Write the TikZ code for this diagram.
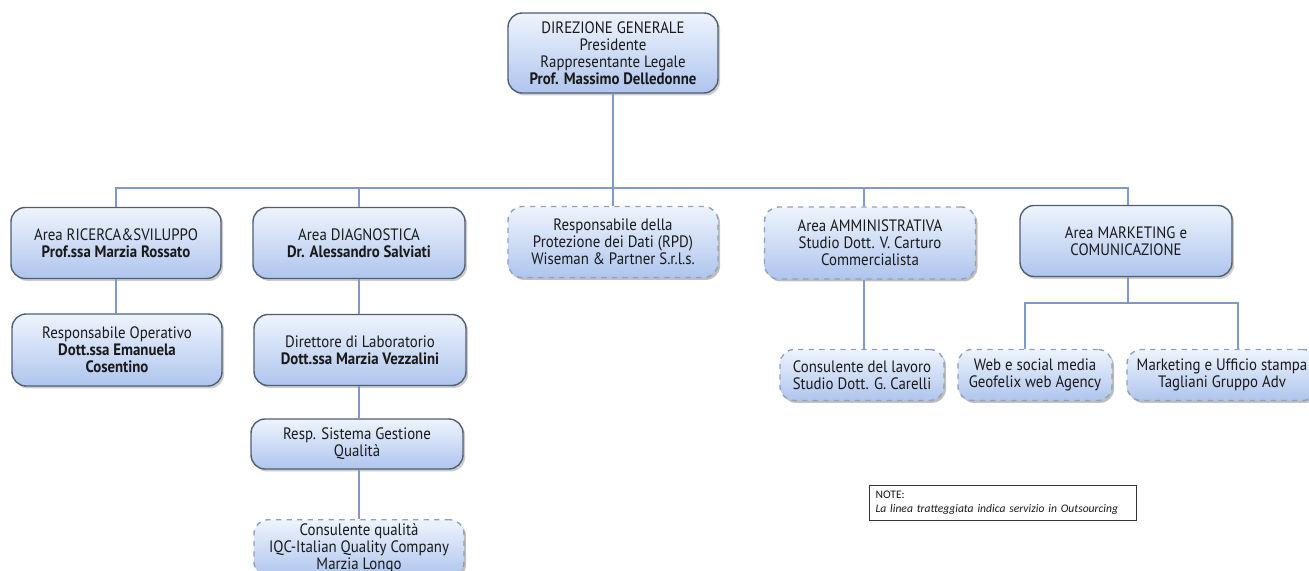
\documentclass[tikz,border=0pt]{standalone}
\usepackage{fontspec}
\setmainfont{PT Sans}[FakeStretch=0.9]
\newfontfamily\notefont{Carlito}
\usetikzlibrary{positioning,shadows}

\definecolor{boxtop}{HTML}{EEF4FD}
\definecolor{boxbottom}{HTML}{AFC5EE}
\definecolor{boxline}{HTML}{505E72}
\definecolor{dashline}{HTML}{8FA1BD}
\definecolor{linkblue}{HTML}{7D9ACA}

\begin{document}
\begin{tikzpicture}[
    x=0.02cm,
    y=-0.02cm,
    every node/.style={
        font=\fontsize{9.4}{9.7}\selectfont,
        align=center,
        text=black!90
    },
    unit/.style={
        draw=boxline,
        thick,
        rounded corners=8pt,
        top color=boxtop,
        bottom color=boxbottom,
        drop shadow={shadow xshift=1.2pt, shadow yshift=-1.4pt, opacity=0.4},
        minimum width=4.2cm,
        minimum height=1.42cm,
        inner sep=2pt
    },
    outsourced/.style={
        unit,
        draw=dashline,
        dashed,
        drop shadow={shadow xshift=1pt, shadow yshift=-1.2pt, opacity=0.2}
    },
    link/.style={
        draw=linkblue,
        line width=1.1pt
    }
]

\useasboundingbox (0,0) rectangle (1309,571);

% direzione
\node[unit, minimum height=1.6cm] (dg) at (613,53) {
    DIREZIONE GENERALE\\
    Presidente\\
    Rappresentante Legale\\
    \textbf{Prof. Massimo Delledonne}
};

% aree
\node[unit] (rs) at (116,243) {
    Area RICERCA\&SVILUPPO\\
    \textbf{Prof.ssa Marzia Rossato}
};

\node[unit, minimum width=4.24cm] (diag) at (359,243) {
    Area DIAGNOSTICA\\
    \textbf{Dr. Alessandro Salviati}
};

\node[outsourced] (rpd) at (613,242) {
    Responsabile della\\
    Protezione dei Dati (RPD)\\
    Wiseman \& Partner S.r.l.s.
};

\node[outsourced, minimum width=4.22cm, minimum height=1.44cm] (amm) at (870,243) {
    Area AMMINISTRATIVA\\
    Studio Dott. V. Carturo\\
    Commercialista
};

\node[unit, minimum width=4.24cm] (mkt) at (1126,241) {
    Area MARKETING e\\
    COMUNICAZIONE
};

% secondo livello
\node[unit, minimum height=1.44cm] (op) at (117,350) {
    Responsabile Operativo\\
    \textbf{Dott.ssa Emanuela}\\
    \textbf{Cosentino}
};

\node[unit, minimum width=4.24cm] (lab) at (360,350) {
    Direttore di Laboratorio\\
    \textbf{Dott.ssa Marzia Vezzalini}
};

\node[unit, minimum width=4.24cm, minimum height=1.0cm] (sgq) at (357,444) {
    Resp. Sistema Gestione\\
    Qualità
};

\node[outsourced, minimum height=1.08cm] (cq) at (359,548) {
    Consulente qualità\\
    IQC-Italian Quality Company\\
    Marzia Longo
};

\node[outsourced, minimum width=3.28cm, minimum height=1.02cm] (cl) at (862,375) {
    Consulente del lavoro\\
    Studio Dott. G. Carelli
};

\node[outsourced, minimum width=3.08cm, minimum height=1.02cm] (web) at (1035,375) {
    Web e social media\\
    Geofelix web Agency
};

\node[outsourced, minimum width=3.8cm, minimum height=1.02cm] (ufs) at (1222,375) {
    Marketing e Ufficio stampa\\
    Tagliani Gruppo Adv
};

% collegamenti
\coordinate (bus) at (613,188);
\coordinate (mbus) at (1128,303);

\draw[link] (dg.south) -- (rpd.north);
\draw[link] (rs.north) |- (bus) -| ([xshift=0.04cm]mkt.north);
\draw[link] (diag.north) -- (diag.north |- bus);
\draw[link] ([xshift=-0.12cm]amm.north) -- ([xshift=-0.12cm]amm.north |- bus);

\draw[link] (rs.south) -- (rs.south |- op.north);
\draw[link] (diag.south) -- (diag.south |- lab.north);
\draw[link] (diag.south |- lab.south) -- (diag.south |- sgq.north);
\draw[link] (diag.south |- sgq.south) -- (diag.south |- cq.north);

\draw[link] ([xshift=-0.12cm]amm.south) -- ([xshift=-0.12cm]amm.south |- cl.north);

\draw[link] ([xshift=0.04cm]mkt.south) -- (mbus);
\draw[link] ([xshift=-0.2cm]web.north) |- (mbus) -| ([xshift=0.32cm]ufs.north);

% nota
\node[
    draw=black!80,
    thin,
    minimum width=5.3cm,
    minimum height=0.68cm,
    text width=5.1cm,
    align=left,
    font=\notefont\fontsize{6.6}{8}\selectfont
] (note) at (1003,503) {
    NOTE:\\
    \textit{La linea tratteggiata indica servizio in Outsourcing}
};

\end{tikzpicture}
\end{document}
